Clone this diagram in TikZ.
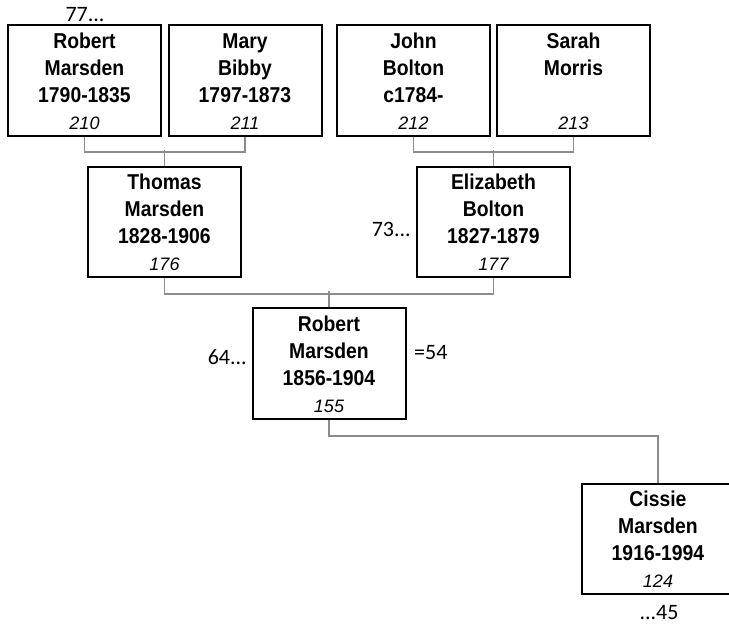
\documentclass[tikz,border=0pt]{standalone}
\usepackage{fontspec}
\setmainfont{Liberation Sans}
\newfontfamily\namefont{Liberation Sans}[FakeStretch=0.9]
\newfontfamily\calibri{Carlito}
\usepackage{tikz}
\usetikzlibrary{positioning, calc}
\usepackage{xcolor}
\definecolor{linkgray}{RGB}{140,140,140}

% fixed line struts so every box sets its lines at the same heights
\newcommand{\tstrut}{\rule[-7pt]{0pt}{30pt}}
\newcommand{\nstrut}{\rule[-7pt]{0pt}{20pt}}
\newcommand{\istrut}{\rule[-6.7pt]{0pt}{13.3pt}}
\newcommand{\who}[4]{\tstrut#1\\\nstrut#2\\\nstrut#3\\{\normalfont\fontsize{18}{20}\selectfont\itshape\istrut#4}}

\tikzset{
  person/.style={draw=black, line width=2pt, rectangle, minimum width=153pt,
    minimum height=110pt, inner sep=0pt, align=center,
    font=\namefont\fontsize{21.5}{27}\selectfont\bfseries},
  link/.style={draw=linkgray, line width=1.8pt},
  note/.style={font=\calibri\fontsize{22}{24}\selectfont, inner sep=0pt}
}

\begin{document}
\begin{tikzpicture}[x=1pt, y=-1pt]
  \useasboundingbox (0,0) rectangle (729,624);
  % grandparents
  \node[person] (p210) at (84.5,80.5) {\who{Robert}{Marsden}{1790-1835}{210}};
  \node[person] (p211) at (245,80.5) {\who{Mary}{Bibby}{1797-1873}{211}};
  \node[person] (p212) at (413.5,80.5) {\who{John}{Bolton}{c1784-}{212}};
  \node[person] (p213) at (573.5,80.5) {\who{Sarah}{Morris}{}{213}};
  % parents
  \node[person] (p176) at (164.5,222) {\who{Thomas}{Marsden}{1828-1906}{176}};
  \node[person] (p177) at (493.5,222) {\who{Elizabeth}{Bolton}{1827-1879}{177}};
  \node[person] (p155) at (329,363.5) {\who{Robert}{Marsden}{1856-1904}{155}};
  \node[person] (p124) at (658,539) {\who{Cissie}{Marsden}{1916-1994}{124}};

  % connectors
  \draw[link] (p210.south) -- ++(0,15) -| (p211.south);
  \draw[link] (p176.north) -- ++(0,-16);
  \draw[link] (p212.south) -- ++(0,15) -| (p213.south);
  \draw[link] (p177.north) -- ++(0,-16);
  \draw[link] (p176.south) -- ++(0,16) -| (p177.south);
  \draw[link] (p155.north) -- ++(0,-16);
  \draw[link] (p155.south) -- ++(0,16) -| (p124.north);

  % cross references
  \node[note, anchor=base] (r77) at (85,21) {77...};
  \node[note, anchor=east] (r73) at (411,229) {73...};
  \node[note, anchor=east] (r64) at (247,357) {64...};
  \node[note, anchor=west] (r54) at (414,353) {=54};
  \node[note, anchor=base] (r45) at (659,619) {...45};
\end{tikzpicture}
\end{document}
